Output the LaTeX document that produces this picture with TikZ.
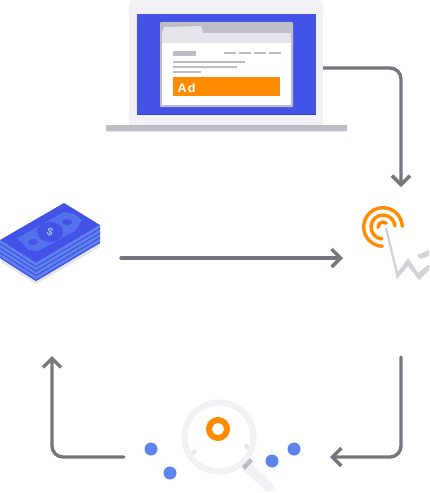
\documentclass[tikz,border=0pt]{standalone}
\usepackage{fontspec}
\setmainfont{Liberation Sans}
\usetikzlibrary{arrows.meta}
\definecolor{blueA}{HTML}{4353E8}
\definecolor{blueB}{HTML}{5F83EC}
\definecolor{blueC}{HTML}{2F3FD0}
\definecolor{blueT}{HTML}{5570EB}
\definecolor{orangeA}{HTML}{FF8C00}
\definecolor{greyL}{HTML}{F1F1F6}
\definecolor{greyM}{HTML}{E4E4EA}
\definecolor{greyD}{HTML}{BDBDC6}
\definecolor{greyS}{HTML}{D2D2DA}
\definecolor{lineC}{HTML}{77757F}
\tikzset{
  flow/.style={draw=lineC,line width=3.4pt,rounded corners=11pt,line cap=round,
    -{Straight Barb[length=9pt,width=18pt,line width=3.4pt]}},
  dot/.style={circle,fill=blueB,minimum size=13pt,inner sep=0pt,outer sep=0pt},
  ring/.style={draw=orangeA,line width=3.4pt,line cap=round}
}
\begin{document}
\begin{tikzpicture}[x=1pt,y=-1pt]
\useasboundingbox (0,0) rectangle (429,493);
\fill[white] (0,0) rectangle (429,493);
% laptop
\fill[greyL,rounded corners=4pt] (129,0) rectangle (323,20);
\fill[greyL] (129,10) rectangle (323,125);
\fill[blueA] (137,14) rectangle (316,115);
\fill[blueC] (137,113.6) rectangle (316,115);
\fill[greyD,rounded corners=1pt] (160,22) rectangle (293,107);
\fill[white] (162,43) rectangle (291,105);
\fill[greyM] (162,33) rectangle (291,43);
\fill[greyM] (162,33) -- (164,27) -- (201,26) -- (203,33) -- cycle;
\fill[greyD] (173,51) rectangle (196,56);
\foreach \a in {224,239,254,269} \fill[greyD] (\a,52) rectangle (\a+12,54);
\fill[greyD] (173,61) rectangle (245,63);
\fill[greyD] (173,66) rectangle (237,68);
\fill[greyD] (173,71) rectangle (201,73);
\fill[orangeA] (173,77) rectangle (280,96);
\node[text=white,font=\bfseries\fontsize{12.5pt}{13pt}\selectfont,inner sep=0pt,anchor=west] (adlabel) at (177.5,88) {A\kern1.2pt d};
\fill[greyD] (106,125) rectangle (347,130.5);
\fill[greyM] (107,130.5) rectangle (346,132);
\coordinate (laptop) at (323,68);
% money
\fill[greyM] (1,262) -- (36,284) -- (100,247) -- (100,240) -- (36,277) -- (1,255) -- cycle;
\foreach \d in {13.5,9,4.5,0} {
  \fill[blueB] (0,240+\d) -- (36,263+\d) -- (100,225+\d) -- (100,229.5+\d) -- (36,267.5+\d) -- (0,244.5+\d) -- cycle;
  \fill[blueA] (0,243+\d) -- (36,266+\d) -- (100,228+\d) -- (100,229.5+\d) -- (36,267.5+\d) -- (0,244.5+\d) -- cycle;
}
\fill[blueA] (0,240) -- (64,203) -- (100,225) -- (36,263) -- cycle;
\fill[blueT] (17,238) -- (26,233) -- (64,212) -- (74,214) -- (82,220) -- (75,231) -- (38,251) -- (29,250) -- cycle;
\fill[blueA] (50,232) ellipse (13 and 10);
\fill[blueA] (33,242) ellipse (5 and 3);
\fill[blueA] (67,222) ellipse (5 and 3);
\node[text=blueB!60!white,font=\bfseries\fontsize{11pt}{12pt}\selectfont,inner sep=0pt,rotate=-20] (dollar) at (50,232) {\$};
\coordinate (money) at (121,258);
% click
\draw[ring] (383,227) ++(92:19.3) arc[start angle=92,end angle=358,radius=19.3];
\draw[ring] (383,227) ++(95:12) arc[start angle=95,end angle=355,radius=12];
\draw[ring] (383,227) ++(175:5) arc[start angle=175,end angle=310,radius=5];
\fill[white] (385,228) -- (397,275) -- (408,262) -- (418,278) -- (429,270) -- (429,240) -- cycle;
\fill[greyS] (385,228) -- (387,228) -- (398,272) -- (408,258) -- (418,273) -- (429,264) -- (429,270) -- (419,280) -- (408,266) -- (397,279) -- cycle;
\fill[greyS] (417,255) -- (429,250) -- (429,256) -- (420,259) -- cycle;
\coordinate (clickin) at (401,187);
\coordinate (clickleft) at (343,258);
\coordinate (clickout) at (401,357);
% magnifier
\draw[greyL,line width=10pt,line cap=round] (245,465) -- (269,487);
\draw[greyL,line width=6pt] (219,437) circle (34.5);
\fill[greyD] (242,466) -- (250,458) -- (253,461) -- (245,470) -- cycle;
\draw[orangeA,line width=6pt] (218,429) circle (9);
\fill[greyM] (191,452) -- (194,449) -- (197,451) -- (194,455) -- cycle;
\fill[greyM] (244,445) -- (247,443) -- (249,447) -- (246,450) -- cycle;
\node[dot] (d1) at (151,449) {};
\node[dot] (d2) at (170,473) {};
\node[dot] (d3) at (272,461) {};
\node[dot] (d4) at (294,449) {};
\coordinate (magright) at (330,457);
\coordinate (magleft) at (124,457);
\coordinate (moneyin) at (52,356);
% connectors
\draw[flow,line cap=butt] (laptop) -- (401,68) -- (clickin);
\draw[flow] (money) -- (clickleft);
\draw[flow] (clickout) -- (401,457) -- (magright);
\draw[flow] (magleft) -- (52,457) -- (moneyin);
\end{tikzpicture}
\end{document}
